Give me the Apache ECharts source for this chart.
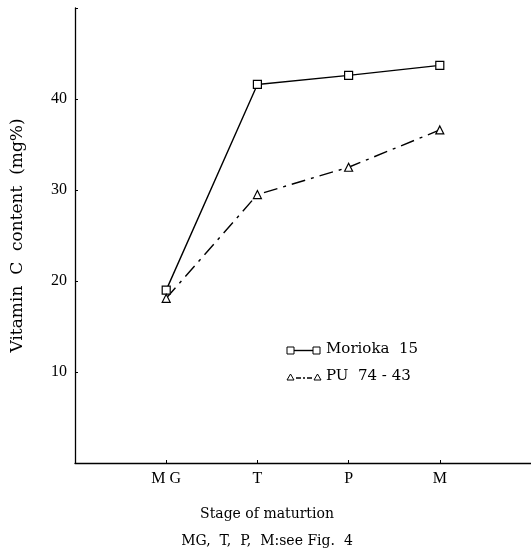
<!DOCTYPE html>
<html><head><meta charset="utf-8">
<script src="https://cdn.jsdelivr.net/npm/echarts@6/dist/echarts.min.js"></script>
<style>html,body{margin:0;padding:0;background:#fff}#c{width:531px;height:550px}</style>
</head><body><div id="c"></div>
<script>
var categories = ['MG', 'T', 'P', 'M'];
var morioka = [19.0, 41.6, 42.6, 43.7];
var pu = [18.1, 29.5, 32.5, 36.6];
var yTicks = [10, 20, 30, 40];
var seriesNames = ['Morioka  15', 'PU  74 - 43'];

var F = '"Liberation Serif","DejaVu Serif",serif';
var FD = '"DejaVu Serif","Liberation Serif",serif';
function pts(arr){ return arr.map(function(v,i){ return [i+1, v]; }); }
var chart = echarts.init(document.getElementById('c'));
chart.setOption({
  animation: false,
  backgroundColor: '#fff',
  grid: {left: 75, top: 8, right: 0, bottom: 87, containLabel: false, outerBoundsMode: 'none'},
  xAxis: {
    type: 'value', min: 0, max: 5, interval: 1,
    axisLine: {lineStyle: {color: '#000', width: 1.3}},
    axisTick: {inside: true, length: 3, lineStyle: {color: '#000'}},
    splitLine: {show: false},
    axisLabel: {color: '#000', fontFamily: F, fontSize: 16, margin: 8,
      formatter: function(v){ return (v>=1 && v<=4) ? categories[v-1].split('').join(' ') : ''; }},
    name: 'Stage of maturtion\nMG,  T,  P,  M:see Fig.  4',
    nameLocation: 'middle', nameGap: 38,
    nameTextStyle: {color: '#000', fontFamily: FD, fontSize: 14, lineHeight: 27, padding: [0, 0, 0, -72]}
  },
  yAxis: {
    type: 'value', min: 0, max: 50, interval: 10,
    axisLine: {show: true, lineStyle: {color: '#000', width: 1.3}},
    axisTick: {inside: true, length: 3, lineStyle: {color: '#000'}},
    splitLine: {show: false},
    axisLabel: {color: '#000', fontFamily: F, fontSize: 16, margin: 8,
      formatter: function(v){ return yTicks.indexOf(v) >= 0 ? String(v) : ''; }},
    name: 'Vitamin  C  content  (mg%)',
    nameLocation: 'middle', nameGap: 49, nameRotate: 90,
    nameTextStyle: {color: '#000', fontFamily: FD, fontSize: 17}
  },
  series: [
    {name: seriesNames[0], type: 'line', data: pts(morioka),
     symbol: 'rect', symbolSize: 8,
     itemStyle: {color: '#fff', borderColor: '#000', borderWidth: 1.2},
     lineStyle: {color: '#000', width: 1.4}},
    {name: seriesNames[1], type: 'line', data: pts(pu),
     symbol: 'triangle', symbolSize: 8,
     itemStyle: {color: '#fff', borderColor: '#000', borderWidth: 1.2},
     lineStyle: {color: '#000', width: 1.4, type: [14, 6, 3, 6]}}
  ],
  graphic: [
    {type: 'rect', shape: {x: 287, y: 347, width: 7, height: 7}, style: {fill: '#fff', stroke: '#000', lineWidth: 1}},
    {type: 'line', shape: {x1: 294, y1: 350.5, x2: 313, y2: 350.5}, style: {stroke: '#000', lineWidth: 1.4}},
    {type: 'rect', shape: {x: 313, y: 347, width: 7, height: 7}, style: {fill: '#fff', stroke: '#000', lineWidth: 1}},
    {type: 'text', left: 326, top: 342, style: {text: seriesNames[0], fill: '#000', font: '15px ' + FD}},
    {type: 'polygon', shape: {points: [[290.5, 374], [287, 380], [294, 380]]}, style: {fill: '#fff', stroke: '#000', lineWidth: 1}},
    {type: 'line', shape: {x1: 296, y1: 378, x2: 313, y2: 378}, style: {stroke: '#000', lineWidth: 1.4, lineDash: [5, 2, 2, 2]}},
    {type: 'polygon', shape: {points: [[317.5, 374], [314, 380], [321, 380]]}, style: {fill: '#fff', stroke: '#000', lineWidth: 1}},
    {type: 'text', left: 326, top: 369, style: {text: seriesNames[1], fill: '#000', font: '15px ' + FD}}
  ]
});
</script></body></html>
